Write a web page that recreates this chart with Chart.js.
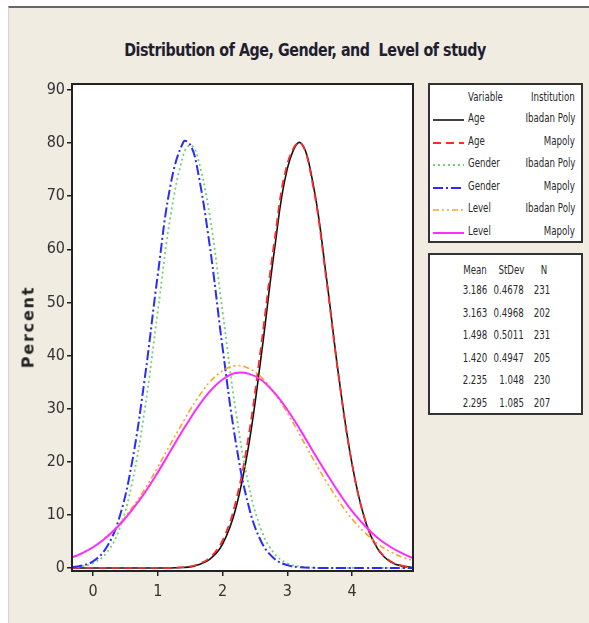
<!DOCTYPE html>
<html>
<head>
<meta charset="utf-8">
<script src="https://cdn.jsdelivr.net/npm/chart.js@4.4.1/dist/chart.umd.min.js"></script>
<style>
  body { margin: 0; background: #fff; width: 589px; height: 623px; overflow: hidden; position: relative; font-family: "DejaVu Sans Condensed", "DejaVu Sans", sans-serif; }
  #panel { position: absolute; left: 8px; top: 6px; width: 581px; height: 617px; background: #f0ece2; border-top: 2px solid #666; border-left: 1px solid #d6d6d6; }
  #chart { position: absolute; left: 0; top: 0; }
  #title { position: absolute; left: 305px; top: 39px; transform: translateX(-50%) scaleX(0.88); white-space: nowrap; font-weight: bold; font-size: 18px; color: #1e2030; letter-spacing: -0.5px; }
  #percent { position: absolute; left: 28px; top: 327px; transform: translate(-50%, -50%) rotate(-90deg); font-family: "DejaVu Sans", sans-serif; font-weight: bold; font-size: 16px; letter-spacing: 1.8px; color: #222; }
  .box { position: absolute; left: 428px; width: 151px; background: #fff; border: 2px solid #333; color: #2a2a2a; font-size: 12px; }
  .box div { position: absolute; white-space: nowrap; transform: scaleX(0.8); }
  .box .l { transform-origin: left center; }
  .box .r { transform-origin: right center; }
  .box .c { transform: translateX(-50%) scaleX(0.8); }
</style>
</head>
<body>
<div id="panel"></div>
<div id="title">Distribution of Age, Gender, and&nbsp; Level of study</div>
<canvas id="chart" width="589" height="623"></canvas>
<div id="percent">Percent</div>
<div class="box" id="legendBox" style="top:83px;height:156px"></div>
<div class="box" id="statsBox" style="top:253px;height:158px"></div>
<script>
// x positions and percent values
const xs = [-0.32, -0.2, 0, 0.2, 0.4, 0.6, 0.8, 1.0, 1.2, 1.4, 1.5, 1.6, 1.8, 2.0, 2.2, 2.4, 2.6, 2.8, 3.0, 3.2, 3.4, 3.6, 3.8, 4.0, 4.2, 4.4, 4.6, 4.8, 4.94];

const ageIbadan = [0, 0, 0, 0, 0, 0, 0, 0, 0, 0.1, 0.2, 0.5, 1.6, 4.5, 11.0, 22.8, 40.2, 59.8, 75.2, 80.1, 72.2, 55.0, 35.5, 19.5, 9.0, 3.5, 1.1, 0.3, 0.1];
const ageMapoly = [0, 0, 0, 0, 0, 0, 0, 0, 0, 0.15, 0.3, 0.6, 1.9, 5.2, 12.3, 24.7, 42.3, 61.5, 76.1, 80.1, 71.7, 54.5, 35.3, 19.5, 9.1, 3.6, 1.2, 0.35, 0.15];
const genderIbadan = [0.1, 0.25, 0.9, 2.7, 7.1, 15.8, 29.9, 48.3, 66.5, 78.0, 79.6, 78.0, 66.5, 48.3, 29.9, 15.8, 7.1, 2.7, 0.9, 0.25, 0.06, 0, 0, 0, 0, 0, 0, 0, 0];
const genderMapoly = [0.15, 0.36, 1.24, 3.7, 9.2, 19.7, 35.8, 55.2, 72.3, 80.3, 79.7, 75.9, 60.9, 41.5, 24.0, 11.8, 4.9, 1.75, 0.53, 0.13, 0.03, 0, 0, 0, 0, 0, 0, 0, 0];
const levelIbadan = [2.0, 2.56, 3.9, 5.8, 8.2, 11.3, 14.9, 19.0, 23.4, 27.7, 29.8, 31.7, 35.0, 37.1, 38.1, 37.6, 35.9, 32.9, 29.2, 24.9, 20.5, 16.3, 12.5, 9.2, 6.6, 4.5, 3.0, 1.9, 1.4];
const levelMapoly = [2.0, 2.6, 3.9, 5.7, 8.0, 10.9, 14.2, 18.0, 22.1, 26.2, 28.1, 30.0, 33.2, 35.5, 36.7, 36.6, 35.4, 33.0, 29.8, 26.0, 21.9, 17.9, 14.1, 10.7, 7.9, 5.6, 3.9, 2.6, 1.85];

const variables = ["Age", "Age", "Gender", "Gender", "Level", "Level"];
const institutions = ["Ibadan Poly", "Mapoly", "Ibadan Poly", "Mapoly", "Ibadan Poly", "Mapoly"];
const means = ["3.186", "3.163", "1.498", "1.420", "2.235", "2.295"];
const stdevs = ["0.4678", "0.4968", "0.5011", "0.4947", "1.048", "1.085"];
const counts = ["231", "202", "231", "205", "230", "207"];

const xTicks = [0, 1, 2, 3, 4];

const series = [ageIbadan, ageMapoly, genderIbadan, genderMapoly, levelIbadan, levelMapoly];
const colors = ["#111111", "#ff2a2a", "#6fd26f", "#2b2bff", "#ffa22a", "#ff2cff"];
const dashes = [[], [8, 5], [2, 3], [10, 3, 2, 3], [6, 3, 2, 3, 2, 3], []];
const widths = [1.6, 1.8, 1.8, 2, 1.6, 2];

const frame = {
  id: "frame",
  beforeDraw(chart) {
    const a = chart.chartArea, ctx = chart.ctx;
    ctx.save();
    ctx.fillStyle = "#fff";
    ctx.fillRect(a.left, a.top, a.right - a.left, a.bottom - a.top);
    ctx.restore();
  },
  afterDraw(chart) {
    const a = chart.chartArea, ctx = chart.ctx;
    ctx.save();
    ctx.strokeStyle = "#222";
    ctx.lineWidth = 2;
    ctx.strokeRect(a.left, a.top, a.right - a.left, a.bottom - a.top);
    ctx.restore();
  }
};

const tickFont = { family: "'DejaVu Sans Condensed', 'DejaVu Sans', sans-serif", size: 16 };

new Chart(document.getElementById("chart"), {
  type: "line",
  data: {
    datasets: series.map((vals, i) => ({
      label: variables[i] + " " + institutions[i],
      data: xs.map((x, j) => ({ x: x, y: vals[j] })),
      borderColor: colors[i],
      borderDash: dashes[i],
      borderWidth: widths[i],
      pointRadius: 0,
      tension: 0.4,
      fill: false,
      order: 6 - i
    }))
  },
  options: {
    responsive: false,
    animation: false,
    devicePixelRatio: 1,
    layout: { padding: { left: 32, right: 176, top: 84, bottom: 12 } },
    plugins: { legend: { display: false }, tooltip: { enabled: false } },
    scales: {
      x: {
        type: "linear",
        min: -0.324,
        max: 4.94,
        afterFit: s => { s.height = 40; },
        afterBuildTicks: s => { s.ticks = xTicks.map(v => ({ value: v })); },
        border: { display: false },
        grid: { drawOnChartArea: false, drawTicks: true, tickLength: 5, color: "#222", lineWidth: 1.5 },
        ticks: { color: "#333", font: tickFont, padding: 6 }
      },
      y: {
        min: -0.57,
        max: 91.13,
        afterFit: s => { s.width = 40; },
        border: { display: false },
        grid: { drawOnChartArea: false, drawTicks: true, tickLength: 5, color: "#222", lineWidth: 1.5 },
        ticks: { stepSize: 10, includeBounds: false, color: "#333", font: tickFont, padding: 2 }
      }
    }
  },
  plugins: [frame]
});

// legend box: variable / institution with line samples
const legendBox = document.getElementById("legendBox");
let html = '<div class="l" style="left:38px;top:5px">Variable</div><div class="r" style="right:6px;top:5px">Institution</div>';
variables.forEach((v, i) => {
  const top = 26 + i * 22.6;
  html += '<svg style="position:absolute;left:3px;top:' + (top + 7) + 'px" width="32" height="4">' +
    '<line x1="0" y1="2" x2="31" y2="2" stroke="' + colors[i] + '" stroke-width="' + widths[i] +
    '" stroke-dasharray="' + (dashes[i].length ? dashes[i].join(",") : "none") + '"/></svg>';
  html += '<div class="l" style="left:38px;top:' + top + 'px">' + v + '</div>';
  html += '<div class="r" style="right:6px;top:' + top + 'px">' + institutions[i] + '</div>';
});
legendBox.innerHTML = html;

// stats box: mean / stdev / n
const statsBox = document.getElementById("statsBox");
let shtml = '<div class="c" style="left:45px;top:8px">Mean</div><div class="r" style="right:57px;top:8px">StDev</div><div class="c" style="left:114px;top:8px">N</div>';
means.forEach((m, i) => {
  const top = 28 + i * 22.6;
  shtml += '<div class="c" style="left:45px;top:' + top + 'px">' + m + '</div>';
  shtml += '<div class="r" style="right:57px;top:' + top + 'px">' + stdevs[i] + '</div>';
  shtml += '<div class="c" style="left:112px;top:' + top + 'px">' + counts[i] + '</div>';
});
statsBox.innerHTML = shtml;
</script>
</body>
</html>
